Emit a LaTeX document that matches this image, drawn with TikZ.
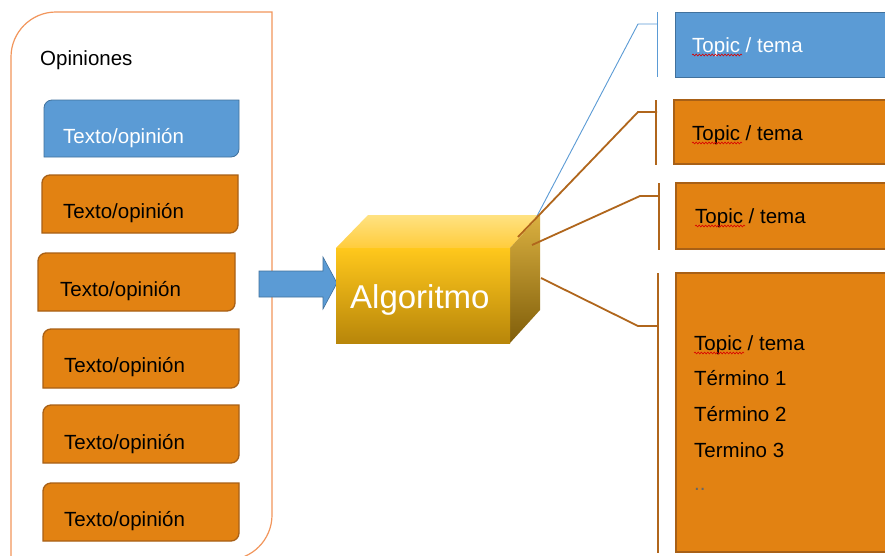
\documentclass[tikz,border=0pt]{standalone}
\usepackage{fontspec}
\setmainfont{Liberation Sans}
\usetikzlibrary{decorations.pathmorphing}
\definecolor{obox}{RGB}{226,130,18}
\definecolor{oedge}{RGB}{168,96,22}
\definecolor{bbox}{RGB}{91,155,213}
\definecolor{bedge}{RGB}{65,113,156}
\definecolor{outline}{RGB}{242,150,92}
\definecolor{link}{RGB}{176,102,28}
\tikzset{
  optext/.style={anchor=base west, inner sep=0pt, font=\fontsize{20.5}{24}\selectfont},
  orangefill/.style={fill=obox, draw=oedge, line width=1.3pt},
  bluefill/.style={fill=bbox, draw=bedge, line width=0.8pt},
  bluelink/.style={draw=bbox, line width=0.9pt},
  brownlink/.style={draw=link, line width=1.8pt},
  squiggle/.style={draw=red!85!black, line width=0.6pt, decorate, decoration={snake, segment length=3.2pt, amplitude=0.9pt}},
}
\newcommand\opbox[5]{%
  \path[#5] (#1,#4) -- (#1,#2+8) arc(180:270:8) -- (#3,#2) -- (#3,#4-8) arc(0:90:8) -- cycle;}
\begin{document}
\begin{tikzpicture}[x=1pt,y=-1pt]
\useasboundingbox (0,0) rectangle (885,555);
\clip (0,0) rectangle (885,555);
\fill[white] (0,0) rectangle (885,555);
% outer container
\draw[outline, line width=1.2pt] (11,565) -- (11,57) arc(180:270:45) -- (272,12) -- (272,515) arc(0:90:45) -- cycle;
\node[optext, text=black] (opin) at (40,65) {Opiniones};
% opinion boxes
\opbox{44}{100}{239}{157}{bluefill}
\node[optext, text=white] (op0) at (63,143) {Texto/opinión};
\opbox{42}{175}{238}{233}{orangefill}
\node[optext, text=black] (op1) at (63,218) {Texto/opinión};
\opbox{38}{253}{235}{311}{orangefill}
\node[optext, text=black] (op2) at (60,296) {Texto/opinión};
\opbox{43}{329}{239}{388}{orangefill}
\node[optext, text=black] (op3) at (64,372) {Texto/opinión};
\opbox{43}{405}{239}{463}{orangefill}
\node[optext, text=black] (op4) at (64,449) {Texto/opinión};
\opbox{43}{483}{239}{541}{orangefill}
\node[optext, text=black] (op5) at (64,526) {Texto/opinión};
% arrow
\fill[bbox, draw=bedge, line width=0.6pt] (259,271) -- (323,271) -- (323,257) -- (337,283) -- (323,309) -- (323,297) -- (259,297) -- cycle;
% cube
\shade[top color={rgb,255:red,255;green,226;blue,130}, bottom color={rgb,255:red,255;green,204;blue,60}] (336,248) -- (368,215) -- (540,215) -- (510,248) -- cycle;
\shade[top color={rgb,255:red,218;green,176;blue,64}, bottom color={rgb,255:red,128;green,94;blue,10}] (510,248) -- (540,215) -- (540,310) -- (510,343) -- cycle;
\shade[top color={rgb,255:red,255;green,200;blue,28}, middle color={rgb,255:red,236;green,176;blue,14}, bottom color={rgb,255:red,184;green,134;blue,10}] (336,248) rectangle (510,343);
\node[anchor=base west, inner sep=0pt, text=white, font=\fontsize{33}{38}\selectfont] (algo) at (350,308) {Algoritmo};
\coordinate (c0) at (537,216);
\coordinate (c1) at (518,237);
\coordinate (c2) at (532,245);
\coordinate (c3) at (541,278);
% right boxes
\fill[bbox] (675,12) rectangle (890,77);
\draw[bedge, line width=0.8pt] (890,12) -- (675,12) -- (675,77) -- (890,77);
\draw[orangefill] (674,100) rectangle (895,164);
\draw[orangefill] (676,183) rectangle (895,249);
\draw[orangefill] (676,273) rectangle (895,552);
\node[optext, text=white] (t0) at (692,52) {Topic / tema};
\node[optext, text=black] (t1) at (692,140) {Topic / tema};
\node[optext, text=black] (t2) at (695,223) {Topic / tema};
\node[optext, text=black] (t3) at (694,350) {Topic / tema};
\node[optext, text=black] (t3a) at (694,385) {Término 1};
\node[optext, text=black] (t3b) at (694,421) {Término 2};
\node[optext, text=black] (t3c) at (694,457) {Termino 3};
\node[optext, text=black!60] (t3d) at (694,490) {..};
\path[squiggle] (692,55) -- (742,55);
\path[squiggle] (692,143) -- (742,143);
\path[squiggle] (695,226) -- (745,226);
\path[squiggle] (694,353) -- (744,353);
% brackets and links
\coordinate (b0) at (657,24);
\coordinate (b1) at (657,112);
\coordinate (b2) at (659,196);
\coordinate (b3) at (658,326);
\draw[bluelink] (657,12) -- (657,77);
\draw[bluelink] (c0) -- (638,24) -- (b0);
\draw[brownlink] (656,100) -- (656,165);
\draw[brownlink] (c1) -- (638,112) -- (b1);
\draw[brownlink] (659,183) -- (659,250);
\draw[brownlink] (c2) -- (640,196) -- (b2);
\draw[brownlink] (658,273) -- (658,553);
\draw[brownlink] (c3) -- (638,326) -- (b3);
\end{tikzpicture}
\end{document}
